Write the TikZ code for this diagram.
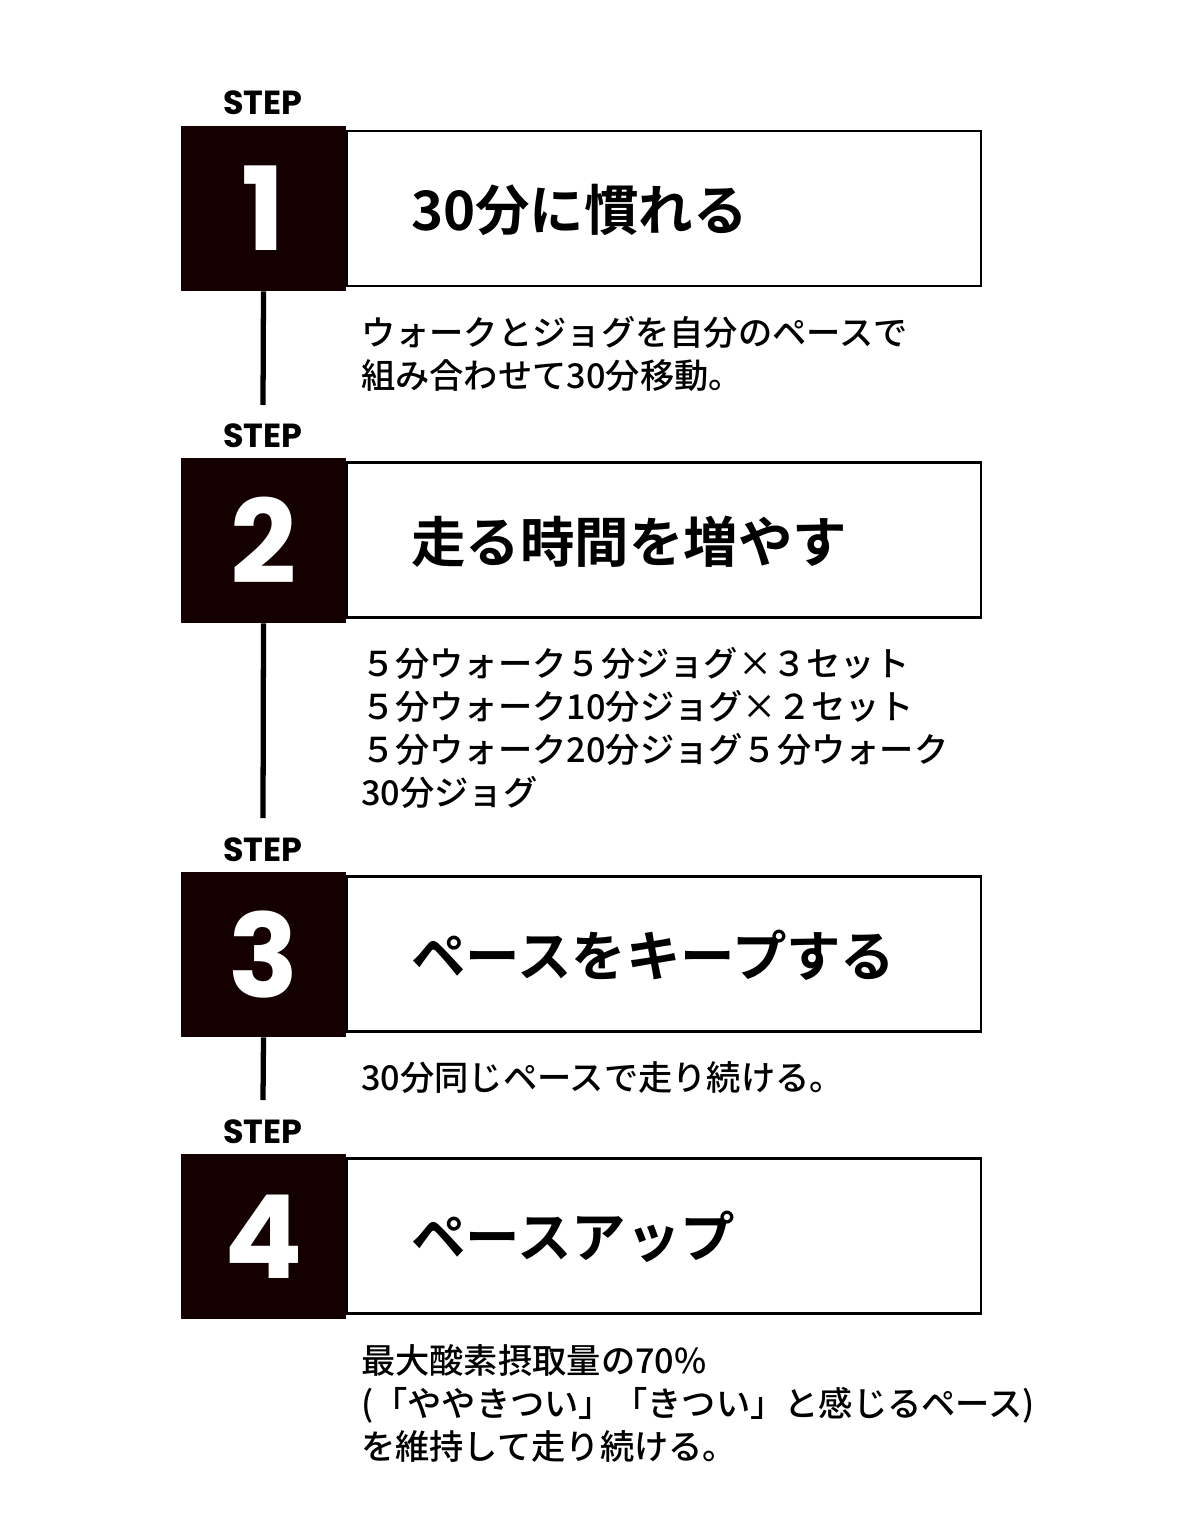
\documentclass[tikz,border=0pt]{standalone}
\usepackage{fontspec}
\setmainfont{Noto Sans CJK JP}[UprightFont={* Medium}, BoldFont={* Bold}]
\newfontfamily\numfont{Poppins}
\usetikzlibrary{positioning}

\tikzset{
  numbox/.style={fill=black!92!red, minimum width=3.3cm, minimum height=3.3cm, text=white, font=\numfont\bfseries\fontsize{66}{66}\selectfont},
  titlebox/.style={draw, line width=1.2pt, minimum width=12.68cm, minimum height=3.1cm, anchor=west},
  titletext/.style={anchor=west, font=\bfseries\fontsize{31}{31}\selectfont},
  steplabel/.style={font=\numfont\bfseries\fontsize{19}{19}\selectfont},
  desc/.style={anchor=north west, align=left, font=\fontsize{19.5}{24.5}\selectfont},
  link/.style={line width=3pt}
}

\begin{document}
\begin{tikzpicture}[x=0.02cm,y=-0.02cm]
\useasboundingbox (0,0) rectangle (1200,1527);

% Step 1
\node[steplabel] (lab1) at (263,103) {STEP};
\node[numbox] (n1) at (263.5,208.5) {1};
\node[titlebox] (b1) at (346,208.5) {};
\node[titletext] (t1) at (405,210) {30分に慣れる};
\node[desc] (d1) at (355,310) {ウォークとジョグを自分のペースで\\組み合わせて30分移動。};

% Step 2
\node[steplabel] (lab2) at (263,436) {STEP};
\node[numbox] (n2) at (263.5,540.5) {2};
\node[titlebox] (b2) at (346,540) {};
\node[titletext] (t2) at (405,542) {走る時間を増やす};
\node[desc] (d2) at (355,641) {５分ウォーク５分ジョグ×３セット\\５分ウォーク10分ジョグ×２セット\\５分ウォーク20分ジョグ５分ウォーク\\30分ジョグ};

% Step 3
\node[steplabel] (lab3) at (263,850) {STEP};
\node[numbox] (n3) at (263.5,954.5) {3};
\node[titlebox] (b3) at (346,954) {};
\node[titletext] (t3) at (405,955) {ペースをキープする};
\node[desc] (d3) at (355,1055) {30分同じペースで走り続ける。};

% Step 4
\node[steplabel] (lab4) at (263,1132) {STEP};
\node[numbox] (n4) at (263.5,1236.5) {4};
\node[titlebox] (b4) at (346,1236) {};
\node[titletext] (t4) at (405,1237) {ペースアップ};
\node[desc] (d4) at (355,1338) {最大酸素摂取量の70\%\\(「ややきつい」「きつい」と感じるペース)\\を維持して走り続ける。};

% links
\coordinate (e1) at (263,405);
\coordinate (e2) at (263,818);
\coordinate (e3) at (263,1100);
\draw[link] (n1.south) -- (e1);
\draw[link] (n2.south) -- (e2);
\draw[link] (n3.south) -- (e3);
\end{tikzpicture}
\end{document}
